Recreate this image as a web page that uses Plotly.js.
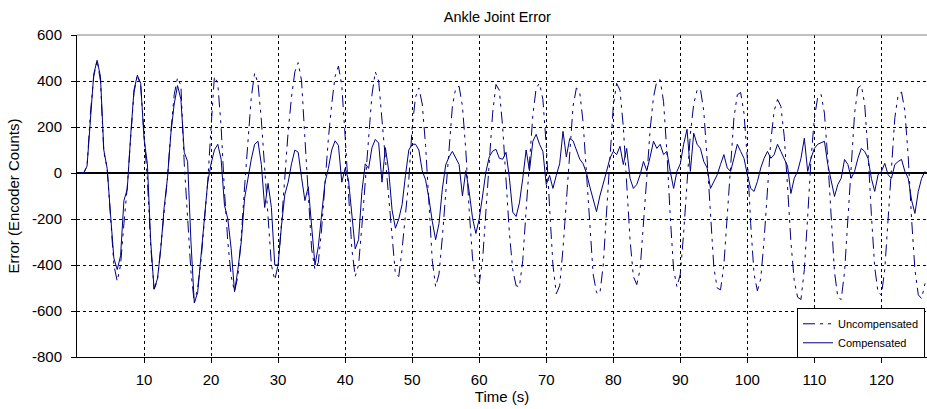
<!DOCTYPE html>
<html>
<head>
<meta charset="utf-8">
<script src="https://cdn.plot.ly/plotly-3.0.1.min.js"></script>
<style>html,body{margin:0;padding:0;background:#fff;}#chart{width:927px;height:409px;}</style>
</head>
<body>
<div id="chart"></div>
<script>
// Sampling grid of the recorded signals (seconds)
var sampleStart = 0;
var sampleStep = 0.5;

// Uncompensated ankle joint error (encoder counts), one value per 0.5 s
var uncompensated = [
  0,0,0,30,260,420,490,400,90,20,
  -200,-400,-470,-400,-220,-60,150,350,425,380,
  170,-30,-320,-505,-470,-330,-170,-20,180,340,
  415,380,40,-200,-430,-565,-500,-380,-220,-40,
  200,420,390,200,-80,-300,-450,-515,-450,-280,
  -60,150,330,435,390,230,20,-220,-400,-465,
  -400,-220,-20,180,330,440,480,400,150,-120,
  -330,-420,-390,-240,-40,150,300,420,465,380,
  160,-100,-330,-450,-400,-230,-40,170,340,440,
  400,230,60,-120,-300,-440,-450,-330,-180,-30,
  200,330,370,300,120,-150,-380,-495,-440,-280,
  -80,130,290,370,377,290,100,-160,-370,-470,
  -480,-380,-180,40,260,385,360,200,-30,-260,
  -420,-490,-495,-380,-160,60,250,370,390,320,
  120,-150,-400,-525,-490,-330,-120,110,290,370,
  350,220,0,-260,-440,-520,-525,-400,-170,80,
  290,390,360,200,-40,-290,-450,-485,-420,-240,
  -20,190,330,400,405,310,90,-190,-420,-495,
  -440,-260,-40,170,300,360,365,270,60,-200,
  -410,-500,-508,-400,-180,60,240,340,350,260,
  60,-220,-440,-512,-460,-290,-60,140,270,320,
  290,160,-60,-300,-470,-540,-550,-420,-190,60,
  240,330,342,260,60,-200,-430,-540,-550,-430,
  -200,60,260,370,382,300,90,-180,-410,-520,
  -530,-420,-200,50,240,340,352,270,70,-200,
  -420,-530,-546,-480
];

// Compensated ankle joint error (encoder counts), one value per 0.5 s
var compensated = [
  0,0,0,30,250,430,490,420,100,20,
  -180,-370,-420,-360,-120,-70,160,360,425,390,
  150,40,-300,-505,-460,-330,-150,-20,170,300,
  380,320,90,50,-300,-565,-520,-370,-210,-40,
  40,100,125,60,-140,-200,-330,-516,-420,-300,
  -110,-20,60,125,138,37,-150,-45,-150,-400,
  -400,-230,-94,-40,40,100,90,-20,-120,-60,
  -240,-400,-320,-170,-40,20,100,140,120,-40,
  20,-30,-170,-330,-290,-80,40,20,110,146,
  130,-40,110,10,-160,-240,-200,-137,-10,100,
  125,125,100,10,-30,-110,-210,-290,-220,-70,
  35,70,94,66,37,-100,10,-80,-195,-263,
  -200,-100,5,70,95,103,64,60,90,-20,
  -170,-189,-130,-23,100,10,138,168,125,94,
  -50,-10,-67,-10,40,181,70,150,140,100,
  60,40,0,-60,-110,-168,-100,-50,7,64,
  94,80,116,37,107,-23,-67,-50,-8,50,
  10,70,138,107,125,80,94,7,-67,7,
  40,125,190,7,173,125,107,50,22,-67,
  -37,-8,37,80,22,7,64,125,94,64,
  -8,-67,-80,-37,22,64,94,64,80,125,
  94,64,30,-89,-23,7,64,151,7,64,
  107,125,130,138,37,-37,-102,-50,-23,59,
  37,-23,7,64,107,94,64,-23,-80,-8,
  7,42,-8,-23,37,50,59,7,-23,-118,
  -176,-80,-23,7
];

var seriesNames = ["Uncompensated", "Compensated"];
var xTickVals = [10,20,30,40,50,60,70,80,90,100,110,120];
var xTickText = ["10","20","30","40","50","60","70","80","90","100","110","120"];
var yTickVals = [600,400,200,0,-200,-400,-600,-800];
var yTickText = ["600","400","200","0","-200","-400","-600","-800"];

var FONT = "Liberation Sans, Arial, sans-serif";
var NAVY = "#000080";

var traces = [
  {
    type: "scatter", mode: "lines", name: seriesNames[0],
    x0: sampleStart, dx: sampleStep, y: uncompensated,
    line: {color: NAVY, width: 1, dash: "12px,5px,3px,5px,3px,5px"}
  },
  {
    type: "scatter", mode: "lines", name: seriesNames[1],
    x0: sampleStart, dx: sampleStep, y: compensated,
    line: {color: NAVY, width: 1}
  }
];

var gridDash = "3px,3px";

var layout = {
  width: 927, height: 409,
  margin: {l: 77, r: 0, t: 35, b: 52, autoexpand: false},
  paper_bgcolor: "#fff", plot_bgcolor: "#fff",
  font: {family: FONT, size: 15, color: "#000"},
  showlegend: true,
  title: {
    text: "Ankle Joint Error",
    font: {family: FONT, size: 14.5, color: "#000"},
    xref: "container", x: 0.5365, xanchor: "center",
    yref: "container", y: 1 - 17/409, yanchor: "middle"
  },
  xaxis: {
    range: [0, 126.8],
    tickmode: "array", tickvals: xTickVals, ticktext: xTickText,
    ticks: "outside", ticklen: 5, tickcolor: "#000", tickwidth: 1,
    ticklabelstandoff: 4,
    showline: true, linecolor: "#000", linewidth: 1,
    showgrid: true, gridcolor: "#000", gridwidth: 1, griddash: gridDash,
    zeroline: false,
    tickfont: {family: FONT, size: 15, color: "#000"},
    title: {text: "Time (s)", font: {family: FONT, size: 15, color: "#000"}, standoff: 4}
  },
  yaxis: {
    range: [-800, 600],
    tickmode: "array", tickvals: yTickVals, ticktext: yTickText,
    ticks: "outside", ticklen: 5, tickcolor: "#000", tickwidth: 1,
    ticklabelstandoff: 6,
    showline: true, linecolor: "#000", linewidth: 1,
    showgrid: true, gridcolor: "#000", gridwidth: 1, griddash: gridDash,
    zeroline: true, zerolinecolor: "#000", zerolinewidth: 2,
    tickfont: {family: FONT, size: 15, color: "#000"},
    title: {text: "Error (Encoder Counts)", font: {family: FONT, size: 15, color: "#000"}, standoff: 8}
  },
  shapes: [
    {type: "line", xref: "paper", yref: "paper", x0: 0, x1: 1, y0: 1, y1: 1,
     line: {color: "#808080", width: 1}}
  ],
  legend: {
    x: (797 - 77) / 850, xanchor: "left",
    y: -0.004, yanchor: "bottom",
    bgcolor: "#fff", bordercolor: "#000", borderwidth: 1,
    font: {family: FONT, size: 11, color: "#000"},
    entrywidth: 140, entrywidthmode: "pixels",
    tracegroupgap: 0
  }
};

Plotly.newPlot("chart", traces, layout, {displayModeBar: false, staticPlot: true});
</script>
</body>
</html>
